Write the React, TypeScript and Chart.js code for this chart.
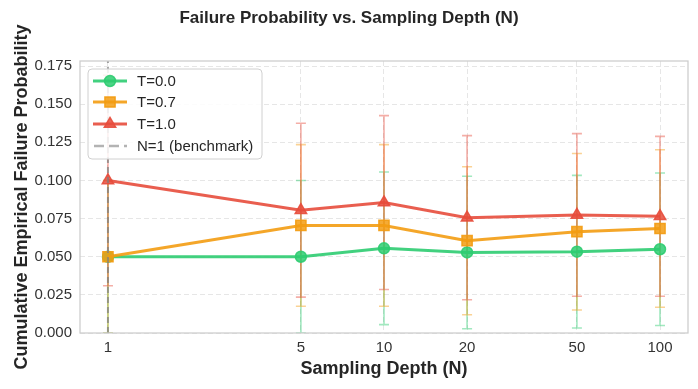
import React, { useEffect, useRef } from "react";
import { Chart, registerables } from "chart.js";

Chart.register(...registerables);

// ---- data ----
const samplingDepths = [1, 5, 10, 20, 50, 100];
const xTickValues = [1, 5, 10, 20, 50, 100];
const yTickValues = [0, 0.025, 0.05, 0.075, 0.1, 0.125, 0.15, 0.175];
const seriesLabels = ["T=0.0", "T=0.7", "T=1.0"];
const failT00 = [0.05, 0.05, 0.0555, 0.0528, 0.0533, 0.0549];
const errT00 = [0.05, 0.05, 0.05, 0.05, 0.05, 0.05];
const failT07 = [0.05, 0.0705, 0.0705, 0.0605, 0.0664, 0.0685];
const errT07 = [0.05, 0.053, 0.053, 0.0485, 0.0513, 0.0516];
const failT10 = [0.1, 0.0805, 0.0855, 0.0756, 0.0774, 0.0765];
const errT10 = [0.069, 0.057, 0.057, 0.0538, 0.0533, 0.0524];
const benchmarkN = 1;
const benchmarkLabel = "N=1 (benchmark)";
const yMin = 0;
const yMax = 0.1783;
const xMin = 0.792;
const xMax = 126.3;

const FONT = "'Liberation Sans', Arial, Helvetica, sans-serif";
const TEXT = "#262626";

const seriesColors = ["46,204,113", "243,156,18", "231,76,60"];
const seriesStyles = ["circle", "rect", "triangle"];
const seriesRadius = [5.5, 7.2, 6.6];
const seriesValues = [failT00, failT07, failT10];
const seriesErrors = [errT00, errT07, errT10];

const errorBarPlugin = {
  id: "errorBars",
  beforeDatasetsDraw(chart: any) {
    const { ctx, chartArea, scales } = chart;
    const xs = scales.x;
    const ys = scales.y;
    ctx.save();
    ctx.beginPath();
    ctx.rect(chartArea.left, chartArea.top, chartArea.right - chartArea.left, chartArea.bottom - chartArea.top);
    ctx.clip();
    seriesValues.forEach((vals, s) => {
      ctx.strokeStyle = `rgba(${seriesColors[s]},0.45)`;
      ctx.lineWidth = 1.6;
      vals.forEach((v, i) => {
        const e = seriesErrors[s][i];
        const x = xs.getPixelForValue(samplingDepths[i]);
        const yt = ys.getPixelForValue(v + e);
        const yb = ys.getPixelForValue(v - e);
        ctx.beginPath();
        ctx.moveTo(x, yt);
        ctx.lineTo(x, yb);
        ctx.moveTo(x - 5, yt);
        ctx.lineTo(x + 5, yt);
        ctx.moveTo(x - 5, yb);
        ctx.lineTo(x + 5, yb);
        ctx.stroke();
      });
    });
    ctx.restore();
  },
};

const framePlugin = {
  id: "frame",
  afterDatasetsDraw(chart: any) {
    const { ctx, chartArea } = chart;
    ctx.save();
    ctx.strokeStyle = "#cccccc";
    ctx.lineWidth = 1.25;
    ctx.strokeRect(chartArea.left, chartArea.top, chartArea.right - chartArea.left, chartArea.bottom - chartArea.top);
    ctx.restore();
  },
};

function drawMarker(ctx: CanvasRenderingContext2D, style: string, x: number, y: number, r: number) {
  ctx.beginPath();
  if (style === "circle") {
    ctx.arc(x, y, r, 0, Math.PI * 2);
  } else if (style === "rect") {
    const h = r * Math.SQRT1_2;
    ctx.rect(x - h, y - h, 2 * h, 2 * h);
  } else {
    let rad = 0;
    ctx.moveTo(x + Math.sin(rad) * r, y - Math.cos(rad) * r);
    rad += (2 * Math.PI) / 3;
    ctx.lineTo(x + Math.sin(rad) * r, y - Math.cos(rad) * r);
    rad += (2 * Math.PI) / 3;
    ctx.lineTo(x + Math.sin(rad) * r, y - Math.cos(rad) * r);
    ctx.closePath();
  }
  ctx.fill();
  ctx.stroke();
}

const legendPlugin = {
  id: "customLegend",
  afterDraw(chart: any) {
    const { ctx, chartArea } = chart;
    const bx = chartArea.left + 8;
    const by = chartArea.top + 8;
    const bw = 174;
    const bh = 90;
    ctx.save();
    ctx.beginPath();
    const rr = 4;
    ctx.moveTo(bx + rr, by);
    ctx.lineTo(bx + bw - rr, by);
    ctx.quadraticCurveTo(bx + bw, by, bx + bw, by + rr);
    ctx.lineTo(bx + bw, by + bh - rr);
    ctx.quadraticCurveTo(bx + bw, by + bh, bx + bw - rr, by + bh);
    ctx.lineTo(bx + rr, by + bh);
    ctx.quadraticCurveTo(bx, by + bh, bx, by + bh - rr);
    ctx.lineTo(bx, by + rr);
    ctx.quadraticCurveTo(bx, by, bx + rr, by);
    ctx.closePath();
    ctx.fillStyle = "rgba(255,255,255,0.85)";
    ctx.fill();
    ctx.strokeStyle = "#d0d0d0";
    ctx.lineWidth = 1;
    ctx.stroke();

    const rows = [12, 33, 55, 77];
    const lx0 = bx + 5;
    const lx1 = bx + 39;
    const lxm = (lx0 + lx1) / 2;
    const tx = bx + 49;
    ctx.font = `15px ${FONT}`;
    ctx.textBaseline = "middle";
    ctx.textAlign = "left";
    seriesLabels.forEach((lab, s) => {
      const y = by + rows[s];
      ctx.strokeStyle = `rgba(${seriesColors[s]},0.9)`;
      ctx.lineWidth = 3;
      ctx.setLineDash([]);
      ctx.beginPath();
      ctx.moveTo(lx0, y);
      ctx.lineTo(lx1, y);
      ctx.stroke();
      ctx.fillStyle = `rgba(${seriesColors[s]},0.85)`;
      ctx.strokeStyle = `rgba(${seriesColors[s]},0.9)`;
      ctx.lineWidth = 1.5;
      drawMarker(ctx, seriesStyles[s], lxm, y, seriesRadius[s]);
      ctx.fillStyle = TEXT;
      ctx.fillText(lab, tx, y + 1);
    });
    const y = by + rows[3];
    ctx.strokeStyle = "rgba(128,128,128,0.6)";
    ctx.lineWidth = 2.5;
    ctx.setLineDash([10, 5]);
    ctx.beginPath();
    ctx.moveTo(lx0 + 1, y);
    ctx.lineTo(lx1, y);
    ctx.stroke();
    ctx.setLineDash([]);
    ctx.fillStyle = TEXT;
    ctx.fillText(benchmarkLabel, tx, y + 1);
    ctx.restore();
  },
};

export default function App() {
  const canvasRef = useRef<HTMLCanvasElement | null>(null);

  useEffect(() => {
    document.body.style.margin = "0";
    const canvas = canvasRef.current;
    if (!canvas) return;

    const lineDatasets = seriesValues.map((vals, s) => ({
      label: seriesLabels[s],
      data: samplingDepths.map((n, i) => ({ x: n, y: vals[i] })),
      borderColor: `rgba(${seriesColors[s]},0.9)`,
      backgroundColor: `rgba(${seriesColors[s]},0.85)`,
      borderWidth: 3,
      pointStyle: seriesStyles[s],
      pointRadius: seriesRadius[s],
      pointBackgroundColor: `rgba(${seriesColors[s]},0.85)`,
      pointBorderColor: `rgba(${seriesColors[s]},0.9)`,
      pointBorderWidth: 1.5,
      tension: 0,
      fill: false,
      order: 3 - s,
    }));

    const benchmarkDataset = {
      label: benchmarkLabel,
      data: [
        { x: benchmarkN, y: yMin },
        { x: benchmarkN, y: yMax },
      ],
      borderColor: "rgba(128,128,128,0.7)",
      borderWidth: 2,
      borderDash: [6, 4],
      pointRadius: 0,
      fill: false,
      order: 0,
    };

    const chart = new Chart(canvas, {
      type: "line",
      data: { datasets: [...lineDatasets, benchmarkDataset] as any },
      options: {
        animation: false,
        responsive: false,
        maintainAspectRatio: false,
        layout: { padding: { left: 0, right: 0, top: 0, bottom: 0 } },
        plugins: {
          legend: { display: false },
          tooltip: { enabled: false },
          title: {
            display: true,
            text: "Failure Probability vs. Sampling Depth (N)",
            color: TEXT,
            font: { family: FONT, size: 17, weight: "bold" },
            padding: { top: 8, bottom: 32.6 },
          },
        },
        scales: {
          x: {
            type: "logarithmic",
            min: xMin,
            max: xMax,
            afterBuildTicks: (scale: any) => {
              scale.ticks = xTickValues.map((v) => ({ value: v }));
            },
            afterFit: (scale: any) => {
              scale.height = 56;
            },
            ticks: {
              autoSkip: false,
              maxRotation: 0,
              color: "#333333",
              font: { family: FONT, size: 15 },
              padding: 6,
              callback: (v: any) => String(v),
            },
            grid: { color: "#e6e6e6", lineWidth: 1, drawTicks: false },
            border: { display: false, dash: [5, 3] },
            title: {
              display: true,
              text: "Sampling Depth (N)",
              color: TEXT,
              font: { family: FONT, size: 18, weight: "bold" },
              padding: { top: 0, bottom: 9 },
            },
          },
          y: {
            type: "linear",
            min: yMin,
            max: yMax,
            afterBuildTicks: (scale: any) => {
              scale.ticks = yTickValues.map((v) => ({ value: v }));
            },
            afterFit: (scale: any) => {
              scale.width = 80;
            },
            ticks: {
              color: "#333333",
              font: { family: FONT, size: 15 },
              padding: 8,
              callback: (v: any) => Number(v).toFixed(3),
            },
            grid: { color: "#e6e6e6", lineWidth: 1, drawTicks: false },
            border: { display: false, dash: [5, 3] },
            title: {
              display: true,
              text: "Cumulative Empirical Failure Probability",
              color: TEXT,
              font: { family: FONT, size: 18, weight: "bold" },
              padding: { top: 11, bottom: 0 },
            },
          },
          yRightSpacer: {
            type: "linear",
            position: "right",
            display: true,
            min: yMin,
            max: yMax,
            afterFit: (scale: any) => {
              scale.width = 10;
            },
            ticks: { display: false },
            grid: { display: false, drawOnChartArea: false, drawTicks: false },
            border: { display: false },
            title: { display: false },
          },
        },
      } as any,
      plugins: [errorBarPlugin, framePlugin, legendPlugin],
    });

    return () => chart.destroy();
  }, []);

  return (
    <div style={{ width: 698, height: 389, background: "#ffffff" }}>
      <canvas ref={canvasRef} width={698} height={389} style={{ width: 698, height: 389, display: "block" }} />
    </div>
  );
}
